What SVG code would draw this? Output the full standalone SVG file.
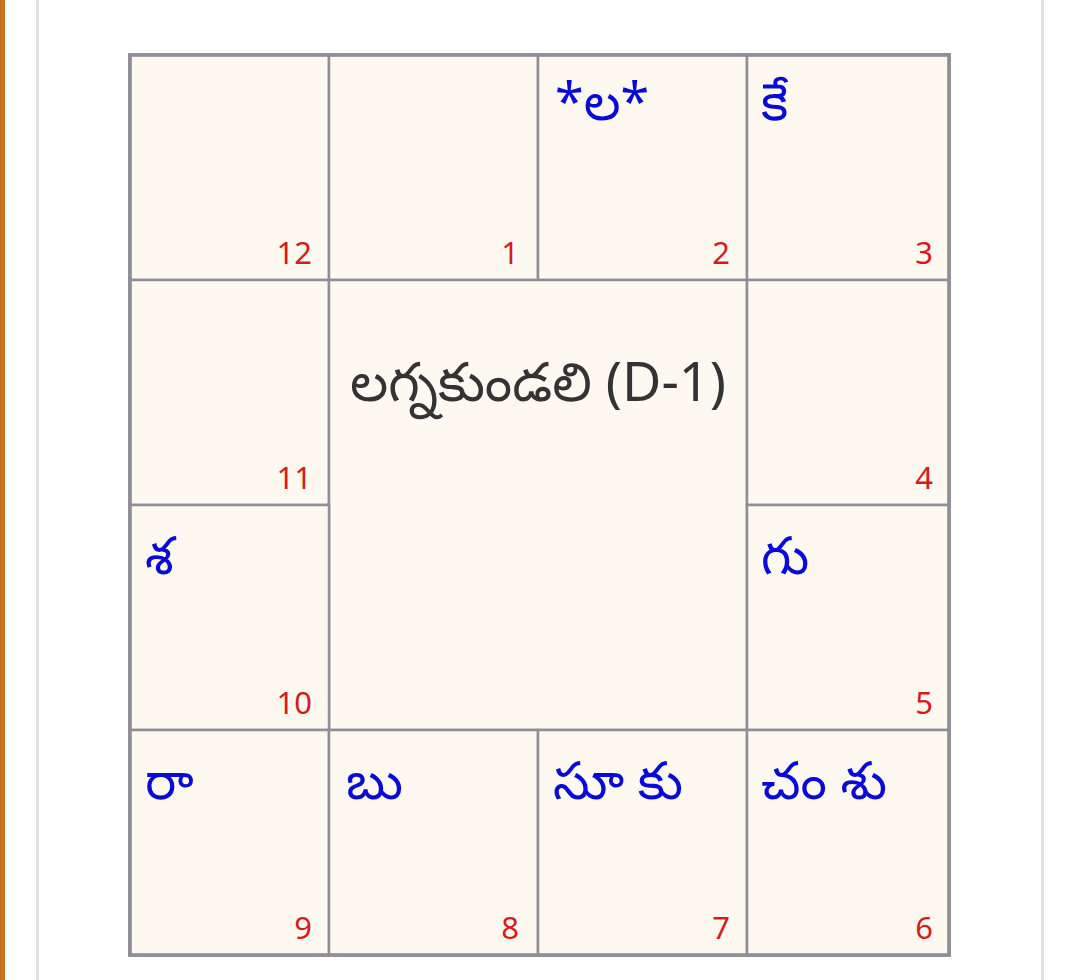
<svg xmlns="http://www.w3.org/2000/svg" width="1072" height="980" viewBox="0 0 1072 980">
<style>
.cell{fill:#fdf9f1;stroke:#8f8d96;stroke-width:2.5}
.num{font-family:"Noto Sans","Open Sans",sans-serif;font-size:31px;fill:#d41c1c;text-anchor:end}
.pl{font-family:"Noto Sans","Noto Sans Telugu",sans-serif;font-size:52px;fill:#0a0ad6}
.ctr{font-family:"Noto Sans","Noto Sans Telugu",sans-serif;font-size:54px;fill:#333333;text-anchor:middle}
</style>
<rect x="0" y="0" width="1072" height="980" fill="#ffffff"/>
<rect x="0" y="0" width="5" height="980" fill="#c8711f"/>
<rect x="36" y="0" width="3" height="980" fill="#e2e2e2"/>
<rect x="1041" y="0" width="3" height="980" fill="#e2e2e2"/>
<g id="chart">
<rect x="130" y="55" width="819" height="900" fill="#fdf9f1" stroke="#8f8d96" stroke-width="3.5"/>
</g>
<g id="h12"><rect class="cell" x="130" y="55" width="199" height="225"/><text class="num" x="312" y="264">12</text></g>
<g id="h1"><rect class="cell" x="329" y="55" width="209" height="225"/><text class="num" x="519" y="264">1</text></g>
<g id="h2"><rect class="cell" x="538" y="55" width="209" height="225"/><text class="pl" x="555" y="120">*ల*</text><text class="num" x="730" y="264">2</text></g>
<g id="h3"><rect class="cell" x="747" y="55" width="202" height="225"/><text class="pl" x="761" y="120">కే</text><text class="num" x="933" y="264">3</text></g>
<g id="h11"><rect class="cell" x="130" y="280" width="199" height="225"/><text class="num" x="312" y="489">11</text></g>
<g id="center"><rect class="cell" x="329" y="280" width="418" height="450"/><text class="ctr" x="538" y="401">లగ్నకుండలి (D-1)</text></g>
<g id="h4"><rect class="cell" x="747" y="280" width="202" height="225"/><text class="num" x="933" y="489">4</text></g>
<g id="h10"><rect class="cell" x="130" y="505" width="199" height="225"/><text class="pl" x="145" y="574">శ</text><text class="num" x="312" y="714">10</text></g>
<g id="h5"><rect class="cell" x="747" y="505" width="202" height="225"/><text class="pl" x="761" y="574">గు</text><text class="num" x="933" y="714">5</text></g>
<g id="h9"><rect class="cell" x="130" y="730" width="199" height="225"/><text class="pl" x="145" y="799">రా</text><text class="num" x="312" y="939">9</text></g>
<g id="h8"><rect class="cell" x="329" y="730" width="209" height="225"/><text class="pl" x="346" y="799">బు</text><text class="num" x="519" y="939">8</text></g>
<g id="h7"><rect class="cell" x="538" y="730" width="209" height="225"/><text class="pl" x="553" y="799">సూ కు</text><text class="num" x="730" y="939">7</text></g>
<g id="h6"><rect class="cell" x="747" y="730" width="202" height="225"/><text class="pl" x="761" y="799">చం శు</text><text class="num" x="933" y="939">6</text></g>
<rect x="130" y="55" width="819" height="900" fill="none" stroke="#8f8d96" stroke-width="3.5"/>
<g id="connectors"/>
</svg>
